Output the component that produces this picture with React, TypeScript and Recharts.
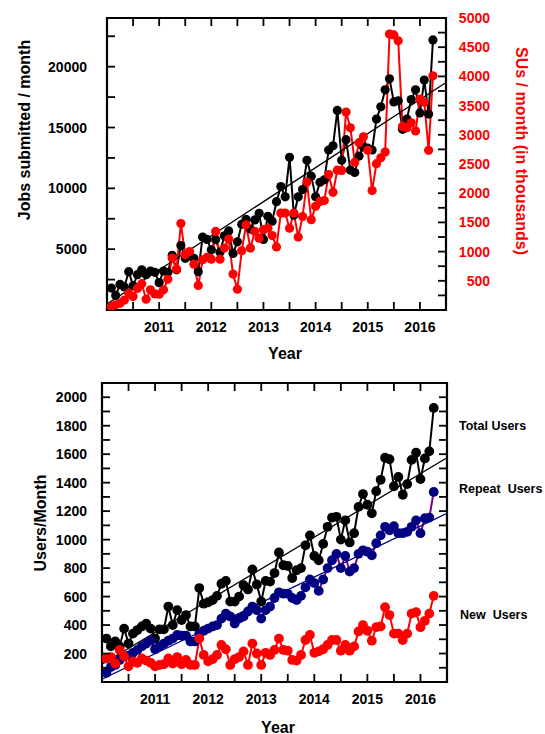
import React from 'react';
import { ComposedChart, Line, XAxis, YAxis, ReferenceArea } from 'recharts';

const FONT = 'Arial, "Liberation Sans", Helvetica, sans-serif';

// Monthly categories: Feb 2010 .. Apr 2016
const START_YEAR = 2010;
const START_MONTH = 2;
const N_MONTHS = 75;
const months: string[] = Array.from({ length: N_MONTHS }, (_, i) => {
  const t = START_MONTH - 1 + i;
  return `${START_YEAR + Math.floor(t / 12)}-${String((t % 12) + 1).padStart(2, '0')}`;
});
const toYear = (m: string) => {
  const [y, mo] = m.split('-').map(Number);
  return y + (mo - 1) / 12;
};

// Top panel
const jobs = [
  1800, 1200, 2100, 1900, 3150, 2000, 2900, 3300, 2900, 3200, 3100, 2250,
  3200, 3100, 4500, 3300, 5300, 4250, 4450, 4250, 3150, 6000, 5800, 4950,
  5800, 4750, 6100, 6500, 4650, 5600, 7050, 7450, 6650, 7400, 7950, 5800,
  7700, 7300, 8900, 10150, 9300, 12550, 7800, 9300, 9900, 12300, 11000, 9300,
  10500, 10700, 13150, 13500, 16400, 12300, 14000, 11500, 11300, 12650, 13400, 13300,
  13150, 15700, 16700, 18100, 19000, 17100, 17200, 14850, 15700, 17300, 18100, 16200,
  18900, 16100, 22200,
];
const sus = [
  60, 90, 115, 170, 285, 230, 370, 450, 185, 345, 275, 270,
  345, 525, 890, 700, 1480, 945, 1000, 785, 420, 860, 900, 870,
  1345, 870, 1060, 1215, 615, 355, 1015, 1460, 1060, 1345, 1230, 1375,
  1400, 1275, 1080, 1660, 1660, 1400, 1660, 1250, 1600, 2190, 1545, 1775,
  1860, 1875, 2320, 2015, 2395, 2390, 3390, 3120, 2530, 2865, 2965, 2735,
  2045, 2505, 2605, 2705, 4725, 4710, 4610, 3140, 3120, 3205, 3065, 3610,
  3560, 2735, 4010,
];
const jobsTrendX = [2010, 2016.5];
const jobsTrendY = [500, 18700];

// Bottom panel
const totalUsers = [
  305, 250, 285, 250, 375, 270, 340, 365, 390, 410, 375, 305,
  370, 370, 530, 400, 505, 435, 470, 390, 390, 660, 550, 560,
  575, 605, 690, 710, 565, 565, 600, 680, 650, 790, 685, 565,
  710, 705, 765, 910, 820, 815, 730, 785, 800, 960, 1030, 885,
  855, 970, 1090, 1155, 1160, 1000, 1135, 980, 1045, 1230, 1320, 1245,
  1185, 1340, 1420, 1575, 1565, 1375, 1440, 1315, 1390, 1560, 1610, 1425,
  1570, 1620, 1925,
];
const repeatUsers = [
  65, 105, 120, 155, 180, 185, 205, 225, 250, 270, 290, 230,
  250, 270, 290, 305, 330, 325, 325, 285, 285, 340, 360, 375,
  390, 400, 445, 480, 460, 410, 445, 460, 495, 530, 505, 445,
  505, 530, 590, 630, 620, 620, 590, 575, 605, 665, 720, 695,
  640, 720, 800, 855, 900, 800, 885, 775, 800, 900, 925, 915,
  890, 975, 1030, 1090, 1065, 1095, 1045, 1045, 1055, 1090, 1135, 1045,
  1150, 1155, 1335,
];
const newUsers = [
  165, 175, 130, 225, 180, 110, 145, 135, 165, 150, 135, 110,
  120, 125, 165, 130, 175, 125, 155, 120, 120, 305, 190, 145,
  160, 190, 260, 230, 120, 160, 175, 215, 120, 270, 200, 120,
  205, 190, 225, 305, 225, 220, 155, 150, 190, 295, 330, 205,
  215, 230, 260, 295, 295, 220, 260, 220, 250, 355, 400, 360,
  290, 385, 390, 525, 470, 340, 340, 295, 340, 480, 490, 385,
  430, 480, 605,
];
const totalTrendX = [2010, 2016.5];
const totalTrendY = [125, 1575];
const repeatTrendX = [2010, 2016.5];
const repeatTrendY = [20, 1185];

const xTicks = [2010.5, 2011, 2011.5, 2012, 2012.5, 2013, 2013.5, 2014, 2014.5, 2015, 2015.5, 2016];
const jobsTicks = [2500, 5000, 7500, 10000, 12500, 15000, 17500, 20000, 22500];
const susTicks = [250, 500, 750, 1000, 1250, 1500, 1750, 2000, 2250, 2500, 2750, 3000, 3250, 3500, 3750, 4000, 4250, 4500, 4750, 5000];
const usersTicks = [100, 200, 300, 400, 500, 600, 700, 800, 900, 1000, 1100, 1200, 1300, 1400, 1500, 1600, 1700, 1800, 1900, 2000];

const topData = months.map((m, i) => ({ x: toYear(m), jobs: jobs[i], sus: sus[i] }));
const botData = months.map((m, i) => ({ x: toYear(m), total: totalUsers[i], repeat: repeatUsers[i], fresh: newUsers[i] }));
const jobsTrend = jobsTrendX.map((x, i) => ({ x, v: jobsTrendY[i] }));
const totalTrend = totalTrendX.map((x, i) => ({ x, v: totalTrendY[i] }));
const repeatTrend = repeatTrendX.map((x, i) => ({ x, v: repeatTrendY[i] }));

const TICK_LEN = 8;
const TICK_W = 1.8;

const textProps = { fontFamily: FONT, fontWeight: 'bold' as const, fontSize: 14 };

const makeXTick = (where: 'top' | 'bottom', labelDy: number) => (props: any) => {
  const { x, y, payload } = props;
  const v = payload.value;
  const showLabel = where === 'bottom' && Number.isInteger(v);
  const dir = where === 'bottom' ? -1 : 1;
  return (
    <g>
      <line x1={x} x2={x} y1={y} y2={y + dir * TICK_LEN} stroke="#000" strokeWidth={TICK_W} />
      {showLabel && (
        <text x={x} y={y + labelDy} textAnchor="middle" dominantBaseline="central" fill="#000" {...textProps}>
          {v}
        </text>
      )}
    </g>
  );
};

const makeYTick = (side: 'left' | 'right', gap: number, labelEvery: number, color: string) => (props: any) => {
  const { x, y, payload } = props;
  const v = payload.value;
  const dir = side === 'left' ? 1 : -1;
  const show = labelEvery > 0 && v % labelEvery === 0;
  return (
    <g>
      <line x1={x} x2={x + dir * TICK_LEN} y1={y} y2={y} stroke="#000" strokeWidth={TICK_W} />
      {show && (
        <text
          x={side === 'left' ? x - gap : x + gap}
          y={y}
          textAnchor="end"
          dominantBaseline="central"
          fill={color}
          {...textProps}
        >
          {v}
        </text>
      )}
    </g>
  );
};

const dotStyle = (c: string, r: number) => ({ r, fill: c, stroke: c, strokeWidth: 0 });

export default function App() {
  return (
    <div style={{ position: 'absolute', left: 0, top: 0, width: 545, height: 734, background: '#fff' }}>
      <div style={{ position: 'absolute', left: 0, top: 0 }}>
        <ComposedChart width={545} height={370} data={topData} margin={{ top: 17, left: 47, right: 39, bottom: 30 }}>
          <XAxis
            dataKey="x"
            type="number"
            domain={[2010, 2016.5]}
            ticks={xTicks}
            interval={0}
            allowDataOverflow
            axisLine={false}
            tickLine={false}
            tickSize={0}
            tickMargin={0}
            height={30}
            tick={makeXTick('bottom', 17)}
          />
          <XAxis
            xAxisId="top"
            orientation="top"
            dataKey="x"
            type="number"
            domain={[2010, 2016.5]}
            ticks={xTicks}
            interval={0}
            allowDataOverflow
            axisLine={false}
            tickLine={false}
            tickSize={0}
            tickMargin={0}
            height={1}
            tick={makeXTick('top', 0)}
          />
          <YAxis
            yAxisId="left"
            type="number"
            domain={[0, 24000]}
            ticks={jobsTicks}
            interval={0}
            allowDataOverflow
            axisLine={false}
            tickLine={false}
            tickSize={0}
            tickMargin={0}
            width={60}
            tick={makeYTick('left', 20, 5000, '#000')}
          />
          <YAxis
            yAxisId="right"
            orientation="right"
            type="number"
            domain={[0, 5000]}
            ticks={susTicks}
            interval={0}
            allowDataOverflow
            axisLine={false}
            tickLine={false}
            tickSize={0}
            tickMargin={0}
            width={60}
            tick={makeYTick('right', 44, 500, '#ff0000')}
          />
          <ReferenceArea
            yAxisId="left"
            x1={2010}
            x2={2016.5}
            y1={0}
            y2={24000}
            fill="none"
            fillOpacity={0}
            stroke="#000"
            strokeWidth={2.2}
            ifOverflow="visible"
          />
          <Line yAxisId="left" dataKey="jobs" stroke="#000" strokeWidth={2} dot={dotStyle('#000', 4.6)} activeDot={false} isAnimationActive={false} />
          <Line yAxisId="right" dataKey="sus" stroke="#ff0000" strokeWidth={2} dot={dotStyle('#ff0000', 4.6)} activeDot={false} isAnimationActive={false} />
          <Line yAxisId="left" data={jobsTrend} dataKey="v" stroke="#000" strokeWidth={1.3} dot={false} activeDot={false} isAnimationActive={false} />
        </ComposedChart>
      </div>
      <div style={{ position: 'absolute', left: 0, top: 370 }}>
        <ComposedChart width={545} height={364} data={botData} margin={{ top: 12, left: 42, right: 88, bottom: 22 }}>
          <XAxis
            dataKey="x"
            type="number"
            domain={[2010, 2016.5]}
            ticks={xTicks}
            interval={0}
            allowDataOverflow
            axisLine={false}
            tickLine={false}
            tickSize={0}
            tickMargin={0}
            height={30}
            tick={makeXTick('bottom', 17)}
          />
          <XAxis
            xAxisId="top"
            orientation="top"
            dataKey="x"
            type="number"
            domain={[2010, 2016.5]}
            ticks={xTicks}
            interval={0}
            allowDataOverflow
            axisLine={false}
            tickLine={false}
            tickSize={0}
            tickMargin={0}
            height={1}
            tick={makeXTick('top', 0)}
          />
          <YAxis
            yAxisId="left"
            type="number"
            domain={[0, 2100]}
            ticks={usersTicks}
            interval={0}
            allowDataOverflow
            axisLine={false}
            tickLine={false}
            tickSize={0}
            tickMargin={0}
            width={60}
            tick={makeYTick('left', 15, 200, '#000')}
          />
          <YAxis
            yAxisId="right"
            orientation="right"
            type="number"
            domain={[0, 2100]}
            ticks={usersTicks}
            interval={0}
            allowDataOverflow
            axisLine={false}
            tickLine={false}
            tickSize={0}
            tickMargin={0}
            width={10}
            tick={makeYTick('right', 0, 0, '#000')}
          />
          <ReferenceArea
            yAxisId="left"
            x1={2010}
            x2={2016.5}
            y1={0}
            y2={2100}
            fill="none"
            fillOpacity={0}
            stroke="#000"
            strokeWidth={2.2}
            ifOverflow="visible"
          />
          <Line yAxisId="left" dataKey="total" stroke="#000" strokeWidth={2} dot={dotStyle('#000', 4.9)} activeDot={false} isAnimationActive={false} />
          <Line yAxisId="left" dataKey="repeat" stroke="#800080" strokeWidth={2} dot={dotStyle('#000080', 4.9)} activeDot={false} isAnimationActive={false} />
          <Line yAxisId="left" dataKey="fresh" stroke="#ff0000" strokeWidth={2} dot={dotStyle('#ff0000', 4.9)} activeDot={false} isAnimationActive={false} />
          <Line yAxisId="left" data={totalTrend} dataKey="v" stroke="#000" strokeWidth={1.3} dot={false} activeDot={false} isAnimationActive={false} />
          <Line yAxisId="left" data={repeatTrend} dataKey="v" stroke="#000080" strokeWidth={1.3} dot={false} activeDot={false} isAnimationActive={false} />
        </ComposedChart>
      </div>
      <svg width={545} height={734} style={{ position: 'absolute', left: 0, top: 0, pointerEvents: 'none' }}>
        <text x={24} y={130} transform="rotate(-90 24 130)" textAnchor="middle" dominantBaseline="central" fontFamily={FONT} fontWeight="bold" fontSize={16} fill="#000">
          Jobs submitted / month
        </text>
        <text x={521} y={151} transform="rotate(90 521 151)" textAnchor="middle" dominantBaseline="central" fontFamily={FONT} fontWeight="bold" fontSize={16} fill="#ff0000">
          SUs / month (in thousands)
        </text>
        <text x={285} y={353} textAnchor="middle" dominantBaseline="central" fontFamily={FONT} fontWeight="bold" fontSize={16} fill="#000">
          Year
        </text>
        <text x={40} y={523} transform="rotate(-90 40 523)" textAnchor="middle" dominantBaseline="central" fontFamily={FONT} fontWeight="bold" fontSize={16} fill="#000">
          Users/Month
        </text>
        <text x={278} y={727} textAnchor="middle" dominantBaseline="central" fontFamily={FONT} fontWeight="bold" fontSize={16} fill="#000">
          Year
        </text>
        <text x={459} y={426} dominantBaseline="central" fontFamily={FONT} fontWeight="bold" fontSize={12.5} fill="#000" style={{ whiteSpace: 'pre' }}>
          Total Users
        </text>
        <text x={459} y={489} dominantBaseline="central" fontFamily={FONT} fontWeight="bold" fontSize={12.5} fill="#000" style={{ whiteSpace: 'pre' }}>
          {'Repeat  Users'}
        </text>
        <text x={460} y={615} dominantBaseline="central" fontFamily={FONT} fontWeight="bold" fontSize={12.5} fill="#000" style={{ whiteSpace: 'pre' }}>
          {'New  Users'}
        </text>
      </svg>
    </div>
  );
}
